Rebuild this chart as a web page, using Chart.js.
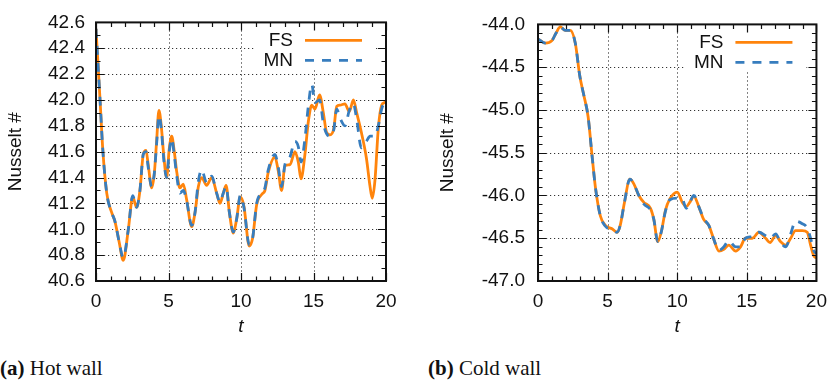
<!DOCTYPE html>
<html>
<head>
<meta charset="utf-8">
<script src="https://cdn.jsdelivr.net/npm/chart.js@4.4.1/dist/chart.umd.min.js"></script>
<style>
  body { margin: 0; background: #fff; width: 830px; height: 385px; overflow: hidden; position: relative; }
  canvas { position: absolute; top: 0; }
  #hot { left: 0; }
  #cold { left: 420px; }
  .cap { position: absolute; top: 357px; font-family: "Liberation Serif", "DejaVu Serif", serif; font-size: 21px; color: #111; line-height: 1.1; white-space: nowrap; }
</style>
</head>
<body>
<canvas id="hot" width="410" height="345"></canvas>
<canvas id="cold" width="416" height="345"></canvas>
<div class="cap" style="left:0"><b>(a)</b> Hot wall</div>
<div class="cap" style="left:428px"><b>(b)</b> Cold wall</div>
<script>
// tick labels
const xTicks = [0, 5, 10, 15, 20];
const hotYTicks = [40.6, 40.8, 41.0, 41.2, 41.4, 41.6, 41.8, 42.0, 42.2, 42.4, 42.6];
const coldYTicks = [-47.0, -46.5, -46.0, -45.5, -45.0, -44.5, -44.0];

// (a) hot wall
const hotT = [0, 0.28, 0.46, 0.74, 1.08, 1.31, 1.6, 1.88, 2.23, 2.53,
  2.8, 3.03, 3.26, 3.45, 3.6, 3.84, 4.02, 4.18, 4.34, 4.5,
  4.69, 4.87, 5.05, 5.22, 5.4, 5.56, 5.79, 6.02, 6.25, 6.6,
  6.83, 7.06, 7.29, 7.63, 7.98, 8.32, 8.55, 8.78, 8.97, 9.2,
  9.47, 9.7, 9.95, 10.2, 10.57, 10.8, 11.08, 11.43, 11.65, 11.88,
  12.34, 12.57, 12.8, 13.03, 13.38, 13.72, 13.95, 14.14, 14.41, 14.64,
  14.88, 15.1, 15.42, 15.68, 15.9, 16.14, 16.4, 16.6, 16.83, 17.17,
  17.47, 17.75, 17.98, 18.3, 18.65, 18.9, 19.05, 19.24, 19.47, 19.7,
  19.9, 20];
const hotFS = [42.55, 42.0, 41.63, 41.28, 41.13, 41.06, 40.9, 40.76, 41.0, 41.25,
  41.17, 41.3, 41.58, 41.61, 41.5, 41.32, 41.43, 41.68, 41.92, 41.8,
  41.55, 41.4, 41.62, 41.72, 41.6, 41.45, 41.32, 41.35, 41.23, 41.02,
  41.13, 41.33, 41.4, 41.34, 41.4, 41.28, 41.2, 41.28, 41.34, 41.13,
  40.97, 41.08, 41.25, 41.18, 40.87, 40.93, 41.19, 41.27, 41.3, 41.44,
  41.56, 41.45, 41.3, 41.49, 41.5, 41.6, 41.52, 41.39, 41.58, 41.83,
  41.96, 41.93, 42.04, 41.9, 41.75, 41.73, 41.78, 41.95, 41.96, 41.97,
  41.91, 42.0, 41.9, 41.75, 41.55, 41.33, 41.24, 41.38, 41.78, 41.96,
  41.98, 41.99];
const hotMN = [42.55, 42.0, 41.63, 41.28, 41.13, 41.06, 40.9, 40.78, 41.0, 41.26,
  41.17, 41.3, 41.58, 41.6, 41.48, 41.33, 41.43, 41.66, 41.88, 41.78,
  41.52, 41.4, 41.6, 41.7, 41.57, 41.42, 41.28, 41.3, 41.22, 41.03,
  41.13, 41.37, 41.46, 41.36, 41.41, 41.28, 41.21, 41.28, 41.33, 41.13,
  40.98, 41.08, 41.26, 41.17, 40.88, 40.93, 41.2, 41.28, 41.32, 41.46,
  41.58, 41.48, 41.33, 41.5, 41.56, 41.68, 41.64, 41.52, 41.7, 41.95,
  42.12, 41.98, 42.0, 41.82, 41.74, 41.72, 41.77, 41.93, 41.86, 41.8,
  41.92, 41.97, 41.85, 41.63, 41.68, 41.72, 41.72, 41.72, 41.8, 41.93,
  41.98, 41.99];

// (b) cold wall
const coldT = [0, 0.53, 1.0, 1.3, 1.6, 1.96, 2.32, 2.68, 3.0, 3.28,
  3.6, 3.88, 4.12, 4.48, 4.84, 5.32, 5.68, 5.92, 6.2, 6.6,
  6.9, 7.24, 7.6, 8.08, 8.32, 8.6, 8.85, 9.16, 9.47, 10.0,
  10.36, 10.65, 10.9, 11.2, 11.55, 11.9, 12.27, 12.6, 13.0, 13.35,
  13.7, 14.2, 14.55, 14.9, 15.4, 15.87, 16.35, 16.67, 17.07, 17.43,
  17.8, 18.15, 18.5, 18.98, 19.34, 19.58, 19.82, 20];
const coldFS = [-44.17, -44.22, -44.19, -44.1, -44.03, -44.07, -44.07, -44.22, -44.6, -44.82,
  -45.08, -45.53, -45.9, -46.24, -46.35, -46.39, -46.43, -46.34, -46.09, -45.81,
  -45.87, -46.0, -46.08, -46.15, -46.28, -46.54, -46.43, -46.17, -46.04, -45.96,
  -46.08, -46.13, -46.08, -46.01, -46.13, -46.28, -46.35, -46.5, -46.65, -46.63,
  -46.58, -46.65, -46.6, -46.5, -46.5, -46.43, -46.5, -46.55, -46.47, -46.54,
  -46.58, -46.5, -46.41, -46.41, -46.43, -46.58, -46.71, -46.73];
const coldMN = [-44.17, -44.22, -44.19, -44.1, -44.03, -44.07, -44.07, -44.22, -44.6, -44.82,
  -45.08, -45.53, -45.9, -46.24, -46.36, -46.4, -46.43, -46.34, -46.09, -45.81,
  -45.87, -46.0, -46.1, -46.17, -46.28, -46.54, -46.43, -46.18, -46.05, -46.03,
  -46.04, -46.15, -46.08, -46.0, -46.13, -46.27, -46.35, -46.5, -46.64, -46.6,
  -46.53, -46.6, -46.6, -46.5, -46.48, -46.43, -46.47, -46.5, -46.45, -46.55,
  -46.6, -46.45, -46.3, -46.33, -46.38, -46.5, -46.65, -46.68];

const ORANGE = 'rgb(255,132,12)';
const BLUE = 'rgb(55,125,190)';
const SANS = '"Liberation Sans", Arial, sans-serif';

// gnuplot style frame: dotted grid, inward ticks on all sides, key top right
const frame = {
  id: 'frame',
  beforeDatasetsDraw(chart, args, opts) {
    const { ctx, chartArea: a, scales: { x, y } } = chart;
    ctx.save();
    ctx.strokeStyle = '#333';
    ctx.lineWidth = 1;
    ctx.setLineDash([1.2, 2.8]);
    ctx.beginPath();
    opts.xTicks.forEach(v => {
      const px = Math.round(x.getPixelForValue(v)) + 0.5;
      if (px > a.left + 2 && px < a.right - 2) { ctx.moveTo(px, a.top); ctx.lineTo(px, a.bottom); }
    });
    opts.yTicks.forEach(v => {
      const py = Math.round(y.getPixelForValue(v)) + 0.5;
      if (py > a.top + 2 && py < a.bottom - 2) { ctx.moveTo(a.left, py); ctx.lineTo(a.right, py); }
    });
    ctx.stroke();
    ctx.restore();
  },
  afterDatasetsDraw(chart, args, opts) {
    const { ctx, chartArea: a, scales: { x, y } } = chart;
    ctx.save();
    // key
    ctx.fillStyle = '#fff';
    ctx.fillRect(a.right - 132, a.top + 1, 122, 46);
    ctx.font = '19px ' + SANS;
    ctx.fillStyle = '#111';
    ctx.textAlign = 'right';
    ctx.textBaseline = 'middle';
    chart.data.datasets.slice().sort((p, q) => q.order - p.order).forEach((ds, i) => {
      const yy = a.top + 18 + i * 20;
      ctx.fillText(ds.label, a.right - 93, yy);
      ctx.strokeStyle = ds.borderColor;
      ctx.lineWidth = ds.borderWidth;
      ctx.setLineDash(ds.borderDash || []);
      ctx.beginPath();
      ctx.moveTo(a.right - 81, yy);
      ctx.lineTo(a.right - 24, yy);
      ctx.stroke();
    });
    ctx.setLineDash([]);
    // ticks
    ctx.strokeStyle = '#111';
    ctx.lineWidth = 1.2;
    ctx.beginPath();
    for (let v = x.min; v <= x.max + 1e-9; v += opts.xMinor) {
      const major = opts.xTicks.some(t => Math.abs(t - v) < 1e-6);
      const len = major ? 8 : 4.5;
      const px = Math.round(x.getPixelForValue(v)) + 0.5;
      ctx.moveTo(px, a.bottom); ctx.lineTo(px, a.bottom - len);
      ctx.moveTo(px, a.top); ctx.lineTo(px, a.top + len);
    }
    const nY = Math.round((y.max - y.min) / opts.yMinor);
    for (let k = 0; k <= nY; k++) {
      const v = y.min + k * opts.yMinor;
      const major = opts.yTicks.some(t => Math.abs(t - v) < 1e-6);
      const len = major ? 8 : 4.5;
      const py = Math.round(y.getPixelForValue(v)) + 0.5;
      ctx.moveTo(a.left, py); ctx.lineTo(a.left + len, py);
      ctx.moveTo(a.right, py); ctx.lineTo(a.right - len, py);
    }
    ctx.stroke();
    // border
    ctx.lineWidth = 2;
    ctx.strokeRect(a.left, a.top, a.right - a.left, a.bottom - a.top);
    ctx.restore();
  }
};

function makeChart(id, tArr, fs, mn, yTicks, yMinor, yWidth, titlePad, padRight, yPad) {
  const last = arr => arr[arr.length - 1];
  return new Chart(document.getElementById(id), {
    type: 'line',
    data: {
      datasets: [
        {
          label: 'FS',
          data: tArr.map((t, i) => ({ x: t, y: fs[i] })),
          borderColor: ORANGE,
          borderWidth: 2.8,
          pointRadius: 0,
          cubicInterpolationMode: 'monotone',
          order: 1
        },
        {
          label: 'MN',
          data: tArr.map((t, i) => ({ x: t, y: mn[i] })),
          borderColor: BLUE,
          borderWidth: 2.8,
          borderDash: [9, 8],
          pointRadius: 0,
          cubicInterpolationMode: 'monotone',
          order: 0
        }
      ]
    },
    options: {
      responsive: false,
      animation: false,
      devicePixelRatio: 1,
      layout: { padding: { top: 13, right: padRight, left: 0, bottom: 0 } },
      plugins: {
        legend: { display: false },
        tooltip: { enabled: false },
        frame: { xTicks: xTicks, yTicks: yTicks, xMinor: 1, yMinor: yMinor }
      },
      scales: {
        x: {
          type: 'linear',
          min: xTicks[0],
          max: last(xTicks),
          afterBuildTicks: s => { s.ticks = xTicks.map(v => ({ value: v })); },
          afterFit: s => { s.height = 64; },
          ticks: { font: { family: SANS, size: 19 }, color: '#111', padding: 9, maxRotation: 0 },
          grid: { display: false, drawTicks: false },
          border: { display: false },
          title: {
            display: true, text: 't', color: '#111',
            font: { family: SANS, size: 19, style: 'italic' },
            padding: { top: 0, bottom: 7 }
          }
        },
        y: {
          min: yTicks[0],
          max: last(yTicks),
          afterBuildTicks: s => { s.ticks = yTicks.map(v => ({ value: v })); },
          afterFit: s => { s.width = yWidth; },
          ticks: {
            font: { family: SANS, size: 19 }, color: '#111', padding: yPad,
            callback: v => v.toFixed(1)
          },
          grid: { display: false, drawTicks: false },
          border: { display: false },
          title: {
            display: true, text: 'Nusselt #', color: '#111',
            font: { family: SANS, size: 19 },
            padding: { top: titlePad, bottom: 0 }
          }
        }
      }
    },
    plugins: [frame]
  });
}

makeChart('hot', hotT, hotFS, hotMN, hotYTicks, 0.1, 96, 4, 24, 11);
makeChart('cold', coldT, coldFS, coldMN, coldYTicks, 0.1, 118, 16, 14, 13);
</script>
</body>
</html>
